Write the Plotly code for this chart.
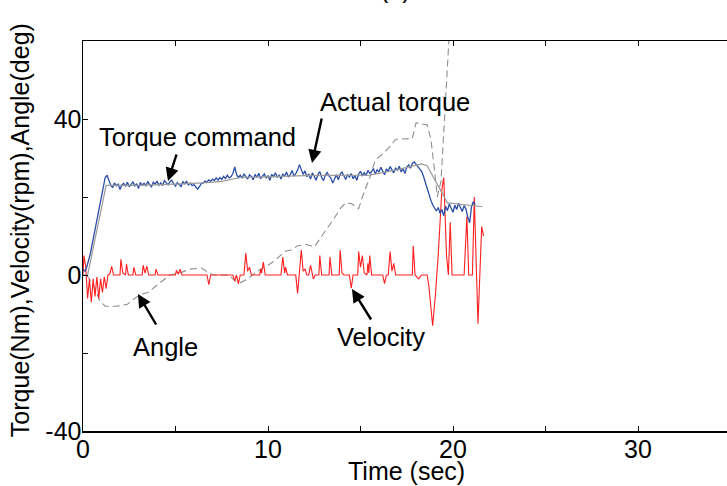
import plotly.graph_objects as go

# ---------------- data ----------------
DT = 0.1  # sampling step of the measured torque (s)
actual_torque = [
    1.5, 1.0, 2.0, 3.5, 5.5, 8.0, 10.5, 13.0, 15.5, 18.0, 20.5, 23.0, 25.0, 25.6, 24.0,
    23.0, 22.4, 23.6, 22.9, 23.3, 21.9, 23.1, 23.5, 22.7, 23.8,
    22.6, 23.2, 23.9, 22.8, 23.4, 22.2, 23.7, 23.0, 23.5, 22.9,
    24.0, 23.1, 22.6, 23.8, 23.3, 24.1, 23.0, 23.6, 22.9, 24.2,
    23.5, 23.1, 23.9, 24.3, 23.4, 22.8, 23.7, 23.2, 22.7, 23.9,
    23.4, 24.0, 23.1, 23.6, 22.9, 23.2, 22.5, 22.0, 22.7, 23.5,
    23.6, 24.1, 23.8, 24.4, 24.0, 24.6, 24.2, 24.9, 24.3, 25.0,
    24.5, 25.3, 24.7, 25.6, 24.9, 25.2, 26.0, 27.7, 25.8, 25.0,
    25.6, 24.8, 25.9, 25.1, 24.6, 25.7, 25.3, 24.4, 25.8, 25.0,
    26.1, 24.7, 25.4, 25.9, 24.9, 25.5, 24.3, 25.8, 25.2, 26.2,
    25.0, 25.6, 24.6, 25.9, 25.3, 26.4, 25.1, 25.7, 26.8, 25.4, 26.0,
    26.9, 28.3, 27.0, 25.8, 26.7, 25.2,
    25.9, 24.6, 26.2, 25.1, 24.3, 25.8, 26.5, 25.0, 24.2, 25.6,
    26.3, 25.4, 24.8, 23.6, 24.9, 25.7, 24.4, 25.9, 26.4, 25.2,
    24.5, 25.8, 25.1, 26.0, 24.7, 25.5, 24.3, 25.9, 26.6, 25.4,
    26.2, 25.5, 26.8, 26.1,
    26.5, 27.3, 25.9, 27.0, 26.4, 27.6, 26.8, 25.7, 27.2, 26.6,
    27.8, 26.9, 26.2, 27.5, 26.8, 27.9, 26.4, 27.3, 26.0, 27.6,
    28.2, 27.4, 28.6, 29.0, 28.4,
    27.8, 27.0, 26.6, 25.4, 23.8, 22.0, 20.5, 19.2, 18.0, 17.2,
    16.4, 17.3, 15.8, 16.8, 15.2,
    17.6, 16.5, 18.2, 17.0, 16.1, 17.9, 16.8, 18.4, 17.2, 16.3,
    17.8, 16.9, 14.8, 13.4, 17.5, 18.8, 18.0,
]
torque_time = [round(i * DT, 2) for i in range(len(actual_torque))]

command_time = [0.0, 0.25, 1.25, 3.0, 5.0, 6.5, 7.5, 8.5, 12.0, 15.5, 17.0, 18.3, 18.6, 19.7, 21.6]
command_value = [0.0, 0.0, 23.0, 23.0, 23.3, 23.6, 24.0, 25.0, 25.5, 25.6, 27.0, 28.5, 28.0, 18.5, 17.5]

angle_time = [0.2, 0.6, 0.9, 1.2, 1.8, 2.4, 2.8, 3.1, 3.5, 3.9, 4.3, 4.7, 5.2, 5.8, 6.4, 6.6,
              7.0, 7.9, 8.2, 8.5, 8.9, 9.3, 9.6, 10.0, 10.4, 10.9, 11.3, 11.6, 12.1, 12.5,
              13.0, 13.5, 13.9, 14.2, 14.5, 14.9, 15.1, 15.5, 15.8, 16.2, 16.6, 16.9, 17.8,
              18.0, 18.6, 18.8, 19.0, 19.15, 19.35, 19.5, 19.65, 19.8]
angle_value = [0.0, -3.0, -6.5, -8.0, -8.0, -7.5, -6.0, -5.0, -4.5, -3.0, -1.5, 0.0, 0.5, 1.5,
               1.8, 1.2, 0.0, 0.0, -1.5, -2.0, -1.0, 0.5, 1.5, 2.5, 3.8, 6.0, 6.5, 7.5, 7.8,
               7.2, 10.5, 14.0, 17.0, 18.5, 18.3, 17.0, 20.0, 25.0, 29.5, 31.0, 33.0, 34.8,
               35.0, 39.0, 38.5, 35.0, 27.0, 20.0, 24.0, 38.0, 52.0, 62.0]

velocity_time = [0.0, 0.05, 0.15, 0.25, 0.35, 0.45, 0.55, 0.65, 0.75, 0.85, 0.95, 1.05, 1.15,
                 1.25, 1.35, 1.45, 1.55, 1.65, 2.0, 2.05, 2.15, 2.3, 2.35, 2.45, 2.7, 2.75,
                 2.85, 3.2, 3.25, 3.35, 3.45, 3.55, 3.9, 3.95, 4.05, 5.0, 5.05, 5.15, 5.25,
                 5.35, 6.7, 6.8, 6.9, 8.1, 8.2, 8.3, 8.4, 8.5, 8.7, 8.8, 8.9, 9.0, 9.1, 9.55,
                 9.6, 9.65, 9.75, 9.85, 10.7, 10.8, 10.9, 10.95, 11.05, 11.5, 11.6, 11.7,
                 11.8, 11.9, 12.0, 12.1, 12.2, 12.3, 12.4, 12.45, 12.55, 12.75, 12.8, 12.9,
                 13.3, 13.35, 13.45, 13.85, 13.9, 14.0, 14.1, 14.4, 14.5, 14.6, 14.85, 14.9,
                 15.0, 15.1, 15.2, 15.35, 15.4, 15.45, 15.5, 15.6, 16.2, 16.3, 16.4, 16.5,
                 16.6, 16.7, 16.8, 16.9, 17.8, 17.85, 17.95, 18.15, 18.3, 18.6, 18.7, 18.9,
                 19.05, 19.2, 19.4, 19.5, 19.65, 19.75, 19.85, 19.95, 20.6, 20.75, 20.85,
                 21.05, 21.15, 21.25, 21.35, 21.45, 21.55, 21.65]
velocity_value = [0.0, 5.0, 2.0, -6.0, -1.0, -7.0, -1.0, -5.5, -0.5, -6.0, -1.0, -4.5, -0.5,
                  -3.5, 0.0, 0.3, 2.2, 0.0, 0.0, 4.0, 0.5, 0.0, 2.8, 0.0, 0.0, 2.0,
                  0.0, 0.0, 2.5, 0.5, 2.3, 0.0, 0.0, 1.5, 0.0, 0.0, 1.2, 0.2, 1.5,
                  0.0, 0.0, -2.5, 0.0, 0.0, -1.5, 0.0, -2.3, 0.0, 0.0, 5.6, 1.0, 2.0, 0.0, 0.0,
                  1.5, 0.5, 3.3, 0.0, 0.0, 4.6, 0.5, 2.0, 0.0, 0.0, -4.7, 0.0,
                  6.4, 1.0, 1.5, 0.0, 0.0, 2.5, 0.0, -1.0, 0.0, 0.0, 5.0, 0.0,
                  0.0, 4.6, 0.0, 0.0, 6.4, 0.5, 0.0, 0.0, -3.4, 0.0, 0.0, 6.0,
                  2.0, 5.0, 0.5, 0.0, 3.0, 0.5, 5.0, 0.0, 0.0, -2.2, 0.0, 0.0,
                  6.0, 1.0, 3.0, 0.0, 0.0, 7.5, 0.0, -1.0, 0.0, 0.0, -3.0, -13.0,
                  -5.0, 5.0, 22.0, 25.0, 5.0, 0.0, 13.5, 0.0, 0.0, 15.0, 0.0,
                  0.0, 20.0, 5.0, -12.5, 0.0, 12.4, 10.0]

x_tick_vals = [0, 5, 10, 15, 20, 25, 30]
x_tick_text = ["0", "", "10", "", "20", "", "30"]
y_tick_vals = [-40, -20, 0, 20, 40, 60]
y_tick_text = ["-40", "", "0", "", "40", ""]

# ---------------- figure ----------------
FONT = "Liberation Sans, Arial, sans-serif"
fig = go.Figure()

fig.add_trace(go.Scatter(x=angle_time, y=angle_value, mode="lines",
                         line=dict(color="#8f8f8f", width=1.1, dash="7px,4px"),
                         name="Angle", showlegend=False, hoverinfo="skip"))
fig.add_trace(go.Scatter(x=velocity_time, y=velocity_value, mode="lines",
                         line=dict(color="#ff1f1f", width=1.1),
                         name="Velocity", showlegend=False, hoverinfo="skip"))
fig.add_trace(go.Scatter(x=torque_time, y=actual_torque, mode="lines",
                         line=dict(color="#2a4ca6", width=1.3),
                         name="Actual torque", showlegend=False, hoverinfo="skip"))
fig.add_trace(go.Scatter(x=command_time, y=command_value, mode="lines",
                         line=dict(color="#9a9a9a", width=1.2),
                         name="Torque command", showlegend=False, hoverinfo="skip"))

PX_PER_X = 18.5
X0_PX = 83     # pixel of t = 0
Y0_PX = 275    # pixel of value 0
PX_PER_Y = 3.9
PLOT_W = 727 - X0_PX


def dx(px):
    return (px - X0_PX) / PX_PER_X


def dy(py):
    return (Y0_PX - py) / PX_PER_Y


labels = [
    ("Torque command", 197, 137),
    ("Actual torque", 395, 102),
    ("Angle", 165, 347),
    ("Velocity", 381, 337),
]
annotations = []
for text, px, py in labels:
    annotations.append(dict(x=dx(px), y=dy(py), xref="x", yref="y", text=text,
                            showarrow=False, font=dict(family=FONT, size=25.5, color="black"),
                            xanchor="center", yanchor="middle"))

arrows = [
    (168, 181, 177, 153),
    (312, 163, 322, 117),
    (138, 294, 157, 326),
    (352, 289, 372, 321),
]
for tx, ty, sx, sy in arrows:
    annotations.append(dict(x=dx(tx), y=dy(ty), xref="x", yref="y", text="",
                            showarrow=True, arrowhead=2, arrowsize=1.1, arrowwidth=2.4,
                            arrowcolor="black", ax=sx - tx, ay=sy - ty,
                            axref="pixel", ayref="pixel"))

annotations.append(dict(x=(20 - X0_PX) / PLOT_W, y=0.515, xref="paper", yref="paper",
                        text="Torque(Nm),Velocity(rpm),Angle(deg)", textangle=-90,
                        showarrow=False, font=dict(family=FONT, size=25, color="black"),
                        xanchor="center", yanchor="middle"))
annotations.append(dict(x=17.5, y=-0.1026, xref="x", yref="paper", text="Time (sec)",
                        showarrow=False, font=dict(family=FONT, size=25, color="black"),
                        xanchor="center", yanchor="middle"))
annotations.append(dict(x=16.9, y=1.133, xref="x", yref="paper", text="(a)",
                        showarrow=False, font=dict(family=FONT, size=25, color="black"),
                        xanchor="center", yanchor="middle"))

fig.update_layout(
    width=727, height=486,
    margin=dict(l=X0_PX, r=0, t=41, b=55, pad=0, autoexpand=False),
    paper_bgcolor="white", plot_bgcolor="white",
    showlegend=False,
    hovermode=False,
    annotations=annotations,
    font=dict(family=FONT, size=25, color="black"),
)
fig.update_xaxes(range=[0, PLOT_W / PX_PER_X], tickvals=x_tick_vals, ticktext=x_tick_text,
                 ticks="inside", ticklen=5, tickwidth=1, tickcolor="black",
                 showline=True, linecolor="black", linewidth=1.5, mirror="ticks",
                 showgrid=False, zeroline=False, automargin=False, ticklabelstandoff=-5,
                 tickfont=dict(family=FONT, size=25, color="black"))
fig.update_yaxes(range=[-40, 60], tickvals=y_tick_vals, ticktext=y_tick_text,
                 ticks="inside", ticklen=5, tickwidth=1, tickcolor="black",
                 showline=True, linecolor="black", linewidth=1.5, mirror=False,
                 showgrid=False, zeroline=False, automargin=False, ticklabelstandoff=-5,
                 tickfont=dict(family=FONT, size=25, color="black"))

fig.write_html(
    "out.html",
    config={"displayModeBar": False, "staticPlot": True},
    post_script="document.body.style.margin='0';document.body.style.overflow='hidden';",
)
